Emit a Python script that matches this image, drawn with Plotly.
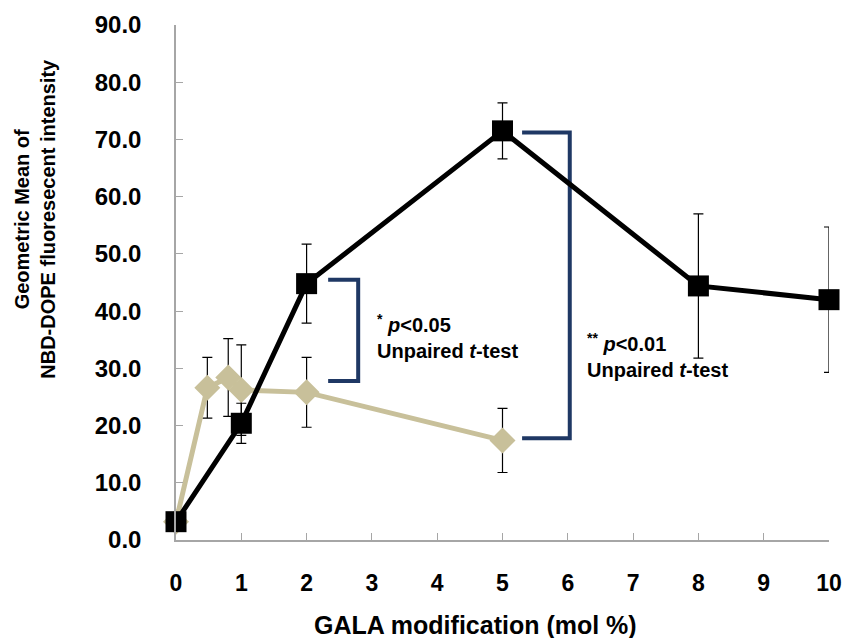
import plotly.graph_objects as go

# Data
x_gala = [0, 1, 2, 5, 8, 10]
y_gala = [3.2, 20.4, 44.8, 71.5, 44.4, 42.0]
e_gala = [0.0, 3.5, 6.9, 4.9, 12.6, 12.7]

x_tan = [0, 0.48, 0.8, 1, 2, 5]
y_tan = [3.2, 26.6, 28.4, 26.2, 25.8, 17.4]
e_tan = [0.0, 5.3, 6.8, 7.9, 6.1, 5.6]

x_ticks = [0, 1, 2, 3, 4, 5, 6, 7, 8, 9, 10]
y_ticks = [0, 10, 20, 30, 40, 50, 60, 70, 80, 90]

# bracket geometry (data coords)
br1_x = [2.33, 2.79, 2.79, 2.33]
br1_y = [45.5, 45.5, 27.8, 27.8]
br2_x = [5.30, 6.03, 6.03, 5.30]
br2_y = [71.2, 71.2, 17.8, 17.8]

NAVY = "#1F3864"
TAN = "#C8C09A"
FONT = "Liberation Sans, Arial, sans-serif"

fig = go.Figure()

for bx, by in ((br1_x, br1_y), (br2_x, br2_y)):
    fig.add_trace(go.Scatter(x=bx, y=by, mode="lines",
                             line=dict(color=NAVY, width=4), hoverinfo="skip",
                             showlegend=False, cliponaxis=False))

fig.add_trace(go.Scatter(
    x=x_tan, y=y_tan, mode="lines+markers",
    line=dict(color=TAN, width=5),
    marker=dict(symbol="diamond", size=20, color=TAN),
    error_y=dict(type="data", array=e_tan, color="black", thickness=1.2, width=5),
    showlegend=False, cliponaxis=False))

fig.add_trace(go.Scatter(
    x=x_gala, y=y_gala, mode="lines+markers",
    line=dict(color="black", width=5),
    marker=dict(symbol="square", size=21, color="black"),
    error_y=dict(type="data", array=e_gala, color="black", thickness=1.2, width=5),
    showlegend=False, cliponaxis=False))

fig.update_layout(
    width=846, height=638,
    margin=dict(l=176, r=17, t=25, b=98),
    paper_bgcolor="white", plot_bgcolor="white",
    font=dict(family=FONT, color="black"),
    xaxis=dict(range=[0, 10], tickmode="array", tickvals=x_ticks,
               ticktext=[f"<b>{v}</b>" for v in x_ticks],
               showgrid=False, zeroline=False, showline=True, automargin=False,
               linecolor="#A6A6A6", linewidth=1.5,
               ticks="inside", ticklen=7, tickcolor="#A6A6A6", tickwidth=1.2,
               tickfont=dict(family=FONT, size=23, color="black"),
               ticklabelstandoff=22),
    yaxis=dict(range=[0, 90], tickmode="array", tickvals=y_ticks,
               ticktext=[f"<b>{v:.1f}</b>" for v in y_ticks],
               showgrid=False, zeroline=False, showline=True, automargin=False,
               linecolor="#A6A6A6", linewidth=1.5,
               ticks="inside", ticklen=7, tickcolor="#A6A6A6", tickwidth=1.2,
               tickfont=dict(family=FONT, size=24, color="black"),
               ticklabelstandoff=28),
)

# x title
fig.add_annotation(xref="paper", yref="paper", x=0.459, y=-0.165,
                   text="<b>GALA modification (mol %)</b>",
                   showarrow=False, xanchor="center", yanchor="middle",
                   font=dict(family=FONT, size=25, color="black"))

# y title as two-line rotated annotation
fig.add_annotation(xref="paper", yref="paper", x=-0.215, y=0.623,
                   text="<b>Geometric Mean of<br>NBD-DOPE fluoresecent intensity</b>",
                   textangle=-90, showarrow=False,
                   font=dict(family=FONT, size=20, color="black"),
                   xanchor="center", yanchor="middle")

# stats text
fig.add_annotation(xref="x", yref="y", x=3.05, y=35.6,
                   text="<b><sup>*</sup> <i>p</i>&lt;0.05<br>Unpaired <i>t</i>-test</b>",
                   showarrow=False, align="left", xanchor="left", yanchor="middle",
                   font=dict(family=FONT, size=20, color="black"))
fig.add_annotation(xref="x", yref="y", x=6.27, y=32.3,
                   text="<b><sup>**</sup> <i>p</i>&lt;0.01<br>Unpaired <i>t</i>-test</b>",
                   showarrow=False, align="left", xanchor="left", yanchor="middle",
                   font=dict(family=FONT, size=20, color="black"))

fig.write_html("out.html")
